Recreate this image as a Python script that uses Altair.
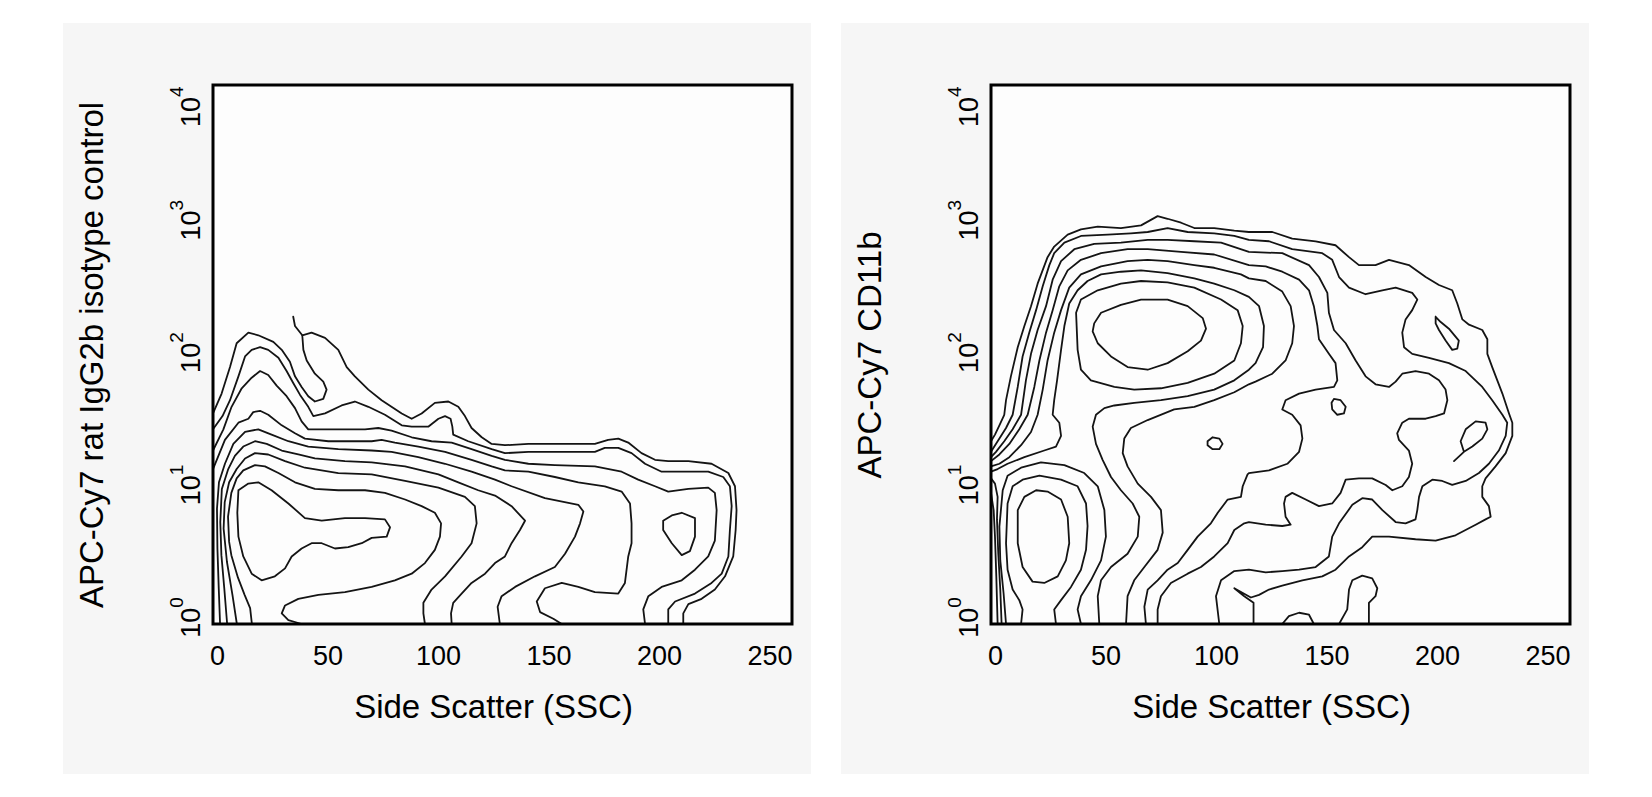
import altair as alt
import pandas as pd

# ---------------- data (x = Side Scatter, y = log10 of fluorescence) ----------------
X_TICKS = [0, 50, 100, 150, 200, 250]
Y_TICKS = [0, 1, 2, 3, 4]
Y_TICK_BASE = "10"
Y_TICK_EXPONENTS = ["0", "1", "2", "3", "4"]
X_TITLE = "Side Scatter (SSC)"
Y_TITLE_ISO = "APC-Cy7 rat IgG2b isotype control"
Y_TITLE_CD11B = "APC-Cy7 CD11b"

# left panel: isotype control contours
ISO_1 = [(-1.8,1.52),(2.1,1.67),(5.9,1.87),(8.9,2.05),(14.2,2.13),(18.7,2.11),(25.5,2.06),(29.3,2.00),(33.0,1.91),(35.3,1.80),(38.3,1.72),(41.3,1.65),(44.3,1.61),(48.1,1.63),(49.6,1.70),(48.1,1.76),(44.3,1.82),(40.6,1.92),(39.1,2.00),(38.6,2.11),(42.8,2.13),(48.9,2.09),(54.9,2.00),(58.7,1.87),(62.4,1.80),(68.5,1.70),(74.5,1.62),(83.6,1.52),(88.1,1.48),(92.6,1.52),(98.6,1.60),(104.7,1.61),(109.2,1.57),(112.2,1.50),(115.2,1.41),(119.8,1.34),(124.3,1.29),(130.3,1.28),(140.9,1.29),(152.9,1.29),(171.0,1.29),(177.0,1.32),(181.6,1.33),(186.1,1.30),(192.1,1.22),(198.2,1.17),(204.2,1.16),(213.3,1.16),(223.8,1.14),(231.4,1.07),(234.4,0.97),(235.1,0.79),(234.7,0.64),(233.6,0.44),(229.9,0.29),(225.3,0.19),(219.3,0.12),(213.3,0.08),(211.0,0.01),(211.0,-0.07)]
ISO_1_TAIL = [(34.5,2.25),(35.3,2.18),(38.6,2.11)]
ISO_2 = [(-1.8,1.40),(2.5,1.50),(5.9,1.62),(9.7,1.80),(12.7,1.95),(15.7,2.00),(19.5,2.02),(23.2,2.00),(27.8,1.94),(31.5,1.84),(34.5,1.75),(37.6,1.66),(41.3,1.57),(43.6,1.50),(48.9,1.52),(56.4,1.58),(62.4,1.61),(68.5,1.57),(76.0,1.51),(83.6,1.43),(88.1,1.42),(95.6,1.42),(100.2,1.48),(103.2,1.50),(105.7,1.48),(106.5,1.42),(106.9,1.36),(113.7,1.31),(124.3,1.25),(130.3,1.22),(140.9,1.23),(152.9,1.23),(171.0,1.23),(175.5,1.26),(181.6,1.26),(187.6,1.22),(193.7,1.14),(201.2,1.08),(213.3,1.08),(222.3,1.08),(229.1,1.04),(232.1,0.97),(232.9,0.82),(232.1,0.64),(231.4,0.44),(228.4,0.31),(223.8,0.24),(216.3,0.16),(207.3,0.10),(204.2,0.04),(204.2,-0.07)]
ISO_3 = [(-1.8,1.24),(2.9,1.40),(6.6,1.57),(11.2,1.71),(15.7,1.79),(19.5,1.84),(23.2,1.81),(27.0,1.73),(31.5,1.65),(35.3,1.56),(38.3,1.46),(41.3,1.40),(48.9,1.40),(59.4,1.40),(67.0,1.40),(73.0,1.41),(79.0,1.39),(88.1,1.34),(97.1,1.31),(106.2,1.30),(115.2,1.25),(124.3,1.20),(130.3,1.17),(140.9,1.14),(152.9,1.13),(171.0,1.12),(183.1,1.08),(190.6,1.02),(198.2,0.97),(204.2,0.93),(213.3,0.95),(222.3,0.96),(225.3,0.92),(226.1,0.79),(225.3,0.56),(222.3,0.44),(216.3,0.34),(210.3,0.26),(201.2,0.21),(195.2,0.14),(192.9,0.04),(193.7,-0.07)]
ISO_4 = [(-1.8,1.10),(3.6,1.32),(9.7,1.45),(14.2,1.48),(16.4,1.53),(19.5,1.54),(23.2,1.51),(29.3,1.43),(35.3,1.37),(39.8,1.33),(50.4,1.31),(62.4,1.31),(70.0,1.31),(74.5,1.32),(80.5,1.30),(91.1,1.27),(103.2,1.23),(115.2,1.17),(124.3,1.12),(130.3,1.09),(140.9,1.08),(152.9,1.04),(163.5,1.00),(175.5,0.97),(183.1,0.93),(186.9,0.84),(187.6,0.69),(187.6,0.54),(186.1,0.44),(184.6,0.24),(181.6,0.16),(171.0,0.17),(163.5,0.21),(156.0,0.24),(148.4,0.20),(144.7,0.10),(146.2,0.02),(152.2,-0.03),(156.0,-0.07)]
ISO_5 = [(1.4,-0.07),(0.8,0.20),(0.2,0.50),(0.0,0.80),(0.9,1.00),(3.6,1.14),(7.4,1.29),(12.7,1.38),(18.7,1.40),(24.7,1.36),(32.3,1.31),(41.3,1.27),(54.9,1.25),(70.0,1.24),(79.0,1.23),(91.1,1.19),(103.2,1.14),(115.2,1.08),(125.8,1.02),(133.3,0.97),(148.4,0.88),(163.5,0.83),(165.8,0.78),(164.3,0.69),(162.0,0.59),(157.5,0.46),(152.9,0.36),(143.9,0.29),(134.9,0.21),(128.8,0.14),(127.0,0.06),(128.0,-0.07)]
ISO_6 = [(4.6,-0.07),(3.3,0.20),(2.0,0.45),(1.5,0.70),(2.2,0.95),(5.1,1.10),(8.1,1.20),(11.9,1.27),(17.2,1.31),(22.5,1.29),(29.3,1.24),(36.8,1.21),(44.3,1.18),(57.9,1.16),(70.0,1.15),(85.1,1.12),(100.2,1.06),(109.2,1.00),(118.2,0.94),(125.8,0.90),(133.3,0.82),(139.4,0.71),(137.1,0.64),(133.3,0.54),(130.3,0.44),(125.8,0.39),(121.3,0.31),(115.2,0.24),(110.7,0.16),(106.9,0.09),(105.9,0.01),(106.2,-0.07)]
ISO_7 = [(9.0,-0.07),(7.0,0.15),(4.5,0.40),(3.0,0.65),(3.5,0.85),(5.5,1.00),(8.9,1.10),(12.7,1.18),(17.2,1.22),(23.2,1.21),(30.8,1.16),(39.8,1.11),(54.9,1.07),(70.0,1.06),(85.1,1.01),(100.2,0.96),(112.2,0.89),(116.7,0.82),(117.5,0.69),(115.2,0.54),(110.7,0.44),(103.2,0.29),(97.1,0.19),(93.4,0.09),(93.4,0.01),(94.1,-0.07)]
ISO_8 = [(38.3,-0.07),(32.3,-0.04),(29.3,0.01),(30.8,0.07),(36.8,0.12),(45.9,0.15),(57.9,0.17),(70.0,0.21),(80.5,0.26),(88.1,0.31),(94.1,0.39),(98.6,0.49),(100.9,0.59),(101.4,0.69),(98.6,0.77),(92.6,0.82),(85.1,0.87),(76.0,0.92),(67.0,0.94),(54.9,0.94),(44.3,0.95),(35.3,1.00),(27.8,1.07),(21.7,1.12),(17.2,1.13),(11.9,1.09),(8.9,1.03),(6.5,0.92),(5.0,0.74),(5.5,0.55),(6.5,0.45),(9.5,0.28),(12.5,0.15),(15.0,0.05),(15.8,-0.07)]
ISO_9 = [(9.7,0.94),(14.2,0.99),(18.7,1.00),(24.7,0.94),(32.3,0.84),(39.8,0.73),(47.4,0.71),(57.9,0.73),(67.0,0.73),(76.0,0.72),(78.3,0.66),(76.8,0.59),(70.0,0.58),(65.5,0.54),(59.4,0.51),(53.4,0.50),(47.4,0.54),(42.8,0.54),(38.3,0.50),(33.8,0.44),(30.8,0.35),(26.2,0.29),(20.2,0.26),(15.7,0.31),(11.9,0.44),(9.7,0.59),(9.2,0.77),(9.7,0.94)]
ISO_10 = [(201.9,0.71),(205.8,0.75),(210.3,0.77),(216.3,0.73),(216.3,0.59),(214.0,0.48),(210.3,0.45),(205.8,0.54),(201.9,0.64),(201.9,0.71)]

# right panel: CD11b contours
CD_1 = [(-1.8,1.31),(0.0,1.36),(2.0,1.43),(4.2,1.51),(5.0,1.62),(7.2,1.80),(10.3,2.02),(13.3,2.18),(16.3,2.33),(19.3,2.50),(23.8,2.70),(26.8,2.78),(32.9,2.87),(38.9,2.91),(46.5,2.93),(57.0,2.92),(66.1,2.94),(73.6,3.01),(78.1,2.99),(84.2,2.96),(90.2,2.92),(99.2,2.92),(108.3,2.90),(114.9,2.89),(125.5,2.89),(134.5,2.84),(145.1,2.82),(154.1,2.79),(160.2,2.70),(164.7,2.64),(172.2,2.64),(178.3,2.68),(187.3,2.64),(194.9,2.55),(200.9,2.49),(206.9,2.45),(209.2,2.35),(211.5,2.23),(214.5,2.19),(220.5,2.15),(222.8,2.08),(222.8,1.97),(225.0,1.87),(227.3,1.77),(229.6,1.67),(232.6,1.52),(234.1,1.45),(234.1,1.35),(231.1,1.22),(226.5,1.12),(222.0,1.03),(220.5,0.97),(220.5,0.89),(223.5,0.82),(224.3,0.74),(222.0,0.72),(217.5,0.68),(208.4,0.60),(199.4,0.56),(190.3,0.57),(178.3,0.59),(170.7,0.59),(166.2,0.51),(160.2,0.44),(154.1,0.34),(148.1,0.29),(139.1,0.26),(130.0,0.22),(124.0,0.19),(119.5,0.15),(115.8,0.13),(108.3,0.20),(112.8,0.14),(117.0,0.09),(117.0,-0.07)]
CD_2 = [(-1.8,1.23),(-0.3,1.27),(2.0,1.33),(5.0,1.41),(8.0,1.51),(10.3,1.72),(12.5,1.95),(15.5,2.13),(18.6,2.30),(21.6,2.48),(24.6,2.64),(26.8,2.73),(31.4,2.81),(38.9,2.86),(51.0,2.87),(61.5,2.88),(69.1,2.89),(78.1,2.92),(87.2,2.89),(99.2,2.88),(108.3,2.86),(114.9,2.83),(124.0,2.82),(134.5,2.76),(148.1,2.73),(152.6,2.68),(155.7,2.55),(160.2,2.47),(167.7,2.42),(175.3,2.45),(181.3,2.47),(188.8,2.43),(191.1,2.38),(188.8,2.30),(185.8,2.23),(184.3,2.13),(185.1,2.02),(188.8,1.97),(196.4,1.94),(205.4,1.90),(213.0,1.84),(220.5,1.72),(225.0,1.62),(229.6,1.51),(231.8,1.45),(231.1,1.35),(228.0,1.24),(223.5,1.14),(219.0,1.07),(213.0,1.01),(206.9,0.98),(202.4,1.01),(197.9,1.02),(193.4,0.97),(191.9,0.89),(191.1,0.79),(190.3,0.72),(185.8,0.69),(181.3,0.70),(175.3,0.79),(170.7,0.87),(166.2,0.88),(161.7,0.83),(155.7,0.69),(152.6,0.59),(151.1,0.44),(145.1,0.36),(137.6,0.34),(130.0,0.33),(122.5,0.32),(114.9,0.34),(108.3,0.33),(102.3,0.26),(100.0,0.14),(101.5,-0.07)]
CD_3 = [(-1.8,1.19),(0.45,1.23),(4.2,1.31),(8.0,1.40),(11.8,1.51),(14.0,1.77),(16.3,1.97),(19.3,2.15),(23.1,2.33),(26.1,2.53),(29.9,2.67),(35.9,2.76),(44.9,2.80),(57.0,2.81),(69.1,2.83),(78.1,2.83),(90.2,2.82),(102.3,2.81),(114.9,2.74),(130.0,2.73),(142.1,2.64),(146.6,2.55),(150.4,2.43),(151.1,2.28),(153.4,2.15),(158.7,2.05),(163.2,1.92),(167.7,1.80),(172.2,1.74),(178.3,1.72),(181.3,1.76),(184.3,1.82),(190.3,1.84),(196.4,1.82),(200.9,1.77),(203.9,1.70),(204.7,1.62),(203.2,1.52),(199.4,1.50),(194.9,1.48),(187.3,1.48),(184.3,1.45),(182.0,1.37),(182.8,1.32),(187.3,1.24),(188.8,1.14),(187.3,1.04),(184.3,0.97),(179.8,0.94),(176.8,0.98),(170.7,1.03),(164.7,1.03),(158.7,1.02),(156.4,0.92),(152.6,0.84),(146.6,0.82),(140.6,0.87),(134.5,0.92),(131.5,0.89),(130.8,0.84),(131.5,0.74),(133.8,0.68),(130.0,0.67),(122.5,0.68),(114.9,0.70),(112.8,0.69),(108.3,0.64),(105.3,0.54),(99.2,0.44),(93.2,0.36),(87.2,0.31),(79.6,0.24),(75.1,0.14),(73.6,0.04),(73.6,-0.07)]
CD_4 = [(-1.8,1.16),(2.0,1.21),(6.5,1.29),(11.0,1.40),(14.8,1.51),(17.8,1.72),(20.1,1.92),(23.1,2.13),(26.1,2.30),(29.1,2.48),(32.9,2.60),(38.9,2.68),(48.0,2.73),(60.0,2.76),(69.1,2.76),(84.2,2.74),(99.2,2.72),(114.9,2.64),(122.5,2.63),(130.0,2.59),(137.6,2.53),(142.1,2.45),(144.3,2.33),(145.9,2.18),(146.6,2.08),(151.1,1.97),(154.1,1.90),(154.9,1.77),(153.4,1.72),(145.1,1.70),(137.6,1.67),(131.5,1.62),(130.0,1.55),(134.5,1.51),(138.3,1.43),(139.1,1.33),(137.6,1.23),(132.3,1.14),(124.0,1.09),(114.9,1.07),(114.3,1.06),(112.1,0.97),(111.3,0.89),(105.3,0.87),(100.8,0.77),(97.7,0.69),(91.7,0.59),(87.2,0.49),(82.7,0.39),(78.1,0.34),(73.6,0.26),(69.1,0.19),(67.6,0.06),(68.3,-0.07)]
CD_5 = [(-1.8,1.12),(2.0,1.14),(6.5,1.19),(11.8,1.28),(16.3,1.38),(19.3,1.51),(21.6,1.70),(23.8,1.92),(26.8,2.13),(29.9,2.30),(33.6,2.47),(38.9,2.57),(48.0,2.63),(60.0,2.67),(69.1,2.68),(78.1,2.67),(90.2,2.64),(99.2,2.62),(111.3,2.57),(114.9,2.54),(122.5,2.52),(130.0,2.44),(133.8,2.33),(135.3,2.18),(134.5,2.05),(131.5,1.92),(125.5,1.82),(117.9,1.76),(114.9,1.74),(108.3,1.68),(99.2,1.62),(90.2,1.57),(81.1,1.55),(69.1,1.47),(61.5,1.41),(58.5,1.33),(57.8,1.22),(60.0,1.12),(64.6,0.99),(70.6,0.89),(75.1,0.79),(75.9,0.62),(73.6,0.49),(67.6,0.36),(63.0,0.26),(60.0,0.14),(59.3,-0.07)]
CD_6 = [(-1.8,1.08),(1.2,1.10),(5.7,1.14),(13.3,1.19),(22.3,1.24),(27.6,1.27),(29.9,1.35),(29.1,1.45),(26.1,1.51),(26.8,1.62),(28.1,1.77),(29.9,2.00),(31.4,2.18),(33.6,2.35),(37.4,2.45),(41.9,2.52),(48.0,2.57),(57.0,2.59),(66.1,2.60),(78.1,2.58),(90.2,2.54),(99.2,2.50),(108.3,2.45),(114.9,2.40),(119.5,2.33),(121.7,2.18),(121.3,2.02),(117.9,1.90),(114.9,1.85),(108.3,1.77),(99.2,1.70),(87.2,1.65),(75.1,1.62),(63.0,1.60),(54.0,1.58),(49.5,1.56),(45.7,1.51),(44.2,1.42),(45.7,1.29),(48.7,1.17),(52.5,1.04),(57.0,0.94),(62.3,0.84),(65.3,0.74),(64.6,0.59),(60.0,0.46),(52.5,0.36),(48.0,0.26),(46.5,0.14),(47.2,-0.07)]
CD_UPPER_2 = [(36.7,2.28),(38.9,2.38),(46.5,2.45),(57.0,2.50),(66.1,2.52),(78.1,2.51),(90.2,2.47),(102.3,2.38),(109.8,2.30),(112.1,2.18),(111.3,2.05),(108.3,1.92),(99.2,1.82),(87.2,1.75),(75.1,1.71),(63.0,1.70),(54.0,1.72),(43.4,1.77),(38.9,1.85),(37.4,2.00),(36.7,2.28)]
CD_UPPER_1 = [(44.9,2.20),(48.0,2.28),(57.0,2.34),(66.1,2.38),(78.1,2.38),(87.2,2.33),(94.0,2.24),(95.5,2.16),(93.2,2.07),(87.2,1.99),(78.1,1.90),(69.1,1.85),(60.0,1.87),(52.5,1.95),(46.5,2.05),(44.2,2.14),(44.9,2.20)]
CD_LOWER_3 = [(5.0,-0.07),(3.9,0.16),(2.4,0.41),(2.0,0.665),(3.5,0.94),(5.7,1.05),(11.8,1.11),(20.8,1.15),(31.4,1.13),(40.4,1.07),(46.5,0.97),(49.5,0.79),(50.2,0.59),(48.0,0.41),(43.4,0.26),(38.9,0.14),(37.4,0.04),(38.9,-0.07)]
CD_LOWER_2 = [(11.8,-0.07),(12.5,0.04),(11.0,0.11),(8.0,0.19),(5.7,0.34),(5.0,0.54),(5.7,0.84),(8.0,0.97),(12.5,1.02),(20.1,1.05),(29.9,1.02),(37.4,0.97),(41.2,0.84),(41.9,0.67),(41.2,0.49),(38.9,0.34),(34.4,0.21),(29.9,0.11),(26.8,0.04),(27.6,-0.07)]
CD_LOWER_1 = [(10.3,0.79),(13.3,0.89),(18.6,0.94),(23.8,0.93),(29.9,0.87),(32.9,0.74),(33.6,0.54),(32.1,0.41),(28.4,0.29),(22.3,0.24),(17.0,0.25),(12.5,0.36),(10.3,0.54),(10.3,0.79)]
CD_EDGE_1 = [(1.2,-0.07),(0.6,0.29),(0.0,0.59),(-0.6,0.79),(-1.8,0.92)]
CD_EDGE_2 = [(3.0,-0.07),(2.4,0.19),(1.5,0.46),(0.9,0.72),(1.2,0.89),(0.0,0.99),(-1.8,1.03)]
CD_DIAMOND = [(199.4,2.25),(201.7,2.21),(205.4,2.16),(209.9,2.07),(209.2,2.01),(206.9,2.00),(203.9,2.07),(200.9,2.15),(199.4,2.20),(199.4,2.25)]
CD_RING_A = [(153.4,1.63),(156.4,1.62),(158.7,1.57),(157.9,1.52),(154.9,1.51),(152.6,1.55),(152.3,1.60),(153.4,1.63)]
CD_RING_B = [(96.2,1.31),(98.5,1.34),(101.5,1.33),(103.0,1.29),(101.5,1.25),(98.5,1.25),(96.2,1.28),(96.2,1.31)]
CD_TEARDROP = [(207.7,1.16),(212.2,1.23),(210.7,1.31),(213.0,1.40),(217.5,1.46),(222.0,1.45),(222.8,1.40),(220.5,1.33),(216.0,1.27),(212.2,1.23)]
CD_DOME = [(130.0,-0.07),(133.0,-0.01),(137.6,0.015),(142.1,0.0),(144.3,-0.07)]
CD_KNOB = [(155.7,-0.07),(159.4,0.04),(160.2,0.19),(161.7,0.26),(166.2,0.295),(170.7,0.275),(173.0,0.20),(172.2,0.14),(169.2,0.09),(169.2,-0.07)]

ISO_PATHS = [ISO_1, ISO_1_TAIL, ISO_2, ISO_3, ISO_4, ISO_5, ISO_6, ISO_7, ISO_8, ISO_9, ISO_10]
CD_PATHS = [CD_1, CD_2, CD_3, CD_4, CD_5, CD_6, CD_UPPER_2, CD_UPPER_1, CD_LOWER_3, CD_LOWER_2,
            CD_LOWER_1, CD_EDGE_1, CD_EDGE_2, CD_DIAMOND, CD_RING_A, CD_RING_B, CD_TEARDROP,
            CD_DOME, CD_KNOB]

# ---------------- chart ----------------
FONT = "Liberation Sans"
W, H = 579, 539
X_DOMAIN = [-1.8, 260.2]
Y_DOMAIN = [-0.07, 4.0]
X_SCALE = alt.Scale(domain=X_DOMAIN, nice=False, zero=False)
Y_SCALE = alt.Scale(domain=Y_DOMAIN, nice=False, zero=False)
TICK_TABLE = pd.DataFrame({"v": Y_TICKS, "base": [Y_TICK_BASE] * len(Y_TICKS), "exp": Y_TICK_EXPONENTS})


def to_frame(paths):
    rows = []
    for k, path in enumerate(paths):
        for i, (x, y) in enumerate(path):
            rows.append({"cid": k, "i": i, "ssc": x, "apc": y})
    return pd.DataFrame(rows)


def panel(paths, ytitle):
    one = alt.Data(values=[{"a": 1}])
    x_axis = alt.Axis(
        values=X_TICKS, title=X_TITLE, domain=False, ticks=False, tickSize=0, grid=False,
        labelFont=FONT, labelFontSize=27, labelColor="black", labelPadding=19,
        labelOverlap=False, labelFlush=False,
        titleFont=FONT, titleFontSize=33, titleFontWeight="normal", titleColor="black",
        titlePadding=22, titleX=280, zindex=1)
    y_axis = alt.Axis(
        values=Y_TICKS, title=ytitle, domain=False, ticks=False, tickSize=0, grid=False,
        labels=False,
        titleFont=FONT, titleFontSize=33, titleFontWeight="normal", titleColor="black",
        titlePadding=104, zindex=1)

    bg = alt.Chart(one).mark_rect(color="#f6f6f6").encode(
        x=alt.value(-150), x2=alt.value(W + 19), y=alt.value(-62), y2=alt.value(H + 150))
    plot_bg = alt.Chart(one).mark_rect(color="#fdfdfd").encode(
        x=alt.value(0), x2=alt.value(W), y=alt.value(0), y2=alt.value(H))
    lines = alt.Chart(to_frame(paths)).mark_line(
        color="#141414", strokeWidth=1.8, strokeJoin="round", strokeCap="round"
    ).encode(
        x=alt.X("ssc:Q", scale=X_SCALE, axis=x_axis),
        y=alt.Y("apc:Q", scale=Y_SCALE, axis=y_axis),
        detail="cid:N",
        order="i:Q",
    )
    frame = alt.Chart(one).mark_rect(fillOpacity=0, stroke="black", strokeWidth=3).encode(
        x=alt.value(0), x2=alt.value(W), y=alt.value(0), y2=alt.value(H))

    # y tick labels: "10" with a raised exponent, rotated like the original
    ticks = alt.Chart(TICK_TABLE)
    txt = dict(angle=270, baseline="alphabetic", font=FONT, color="black")
    base_mid = ticks.transform_filter("datum.v < 4").mark_text(
        align="center", fontSize=27, dx=-8, **txt).encode(
        y=alt.Y("v:Q", scale=Y_SCALE, axis=y_axis), x=alt.value(-13), text="base:N")
    exp_mid = ticks.transform_filter("datum.v < 4").mark_text(
        align="left", fontSize=19, dx=7, dy=-17, **txt).encode(
        y=alt.Y("v:Q", scale=Y_SCALE, axis=y_axis), x=alt.value(-13), text="exp:N")
    base_top = ticks.transform_filter("datum.v >= 4").mark_text(
        align="center", fontSize=27, dx=-27, **txt).encode(
        y=alt.Y("v:Q", scale=Y_SCALE, axis=y_axis), x=alt.value(-13), text="base:N")
    exp_top = ticks.transform_filter("datum.v >= 4").mark_text(
        align="left", fontSize=19, dx=-12, dy=-17, **txt).encode(
        y=alt.Y("v:Q", scale=Y_SCALE, axis=y_axis), x=alt.value(-13), text="exp:N")

    return alt.layer(bg, plot_bg, lines, frame, base_mid, exp_mid, base_top, exp_top).properties(
        width=W, height=H)


chart = alt.hconcat(
    panel(ISO_PATHS, Y_TITLE_ISO),
    panel(CD_PATHS, Y_TITLE_CD11B),
    spacing=30,
).properties(
    padding={"left": 63, "top": 23, "right": 5, "bottom": 5},
    background="white",
).configure_view(strokeOpacity=0)

chart.save("out.html", embed_options={"renderer": "svg", "actions": False})
